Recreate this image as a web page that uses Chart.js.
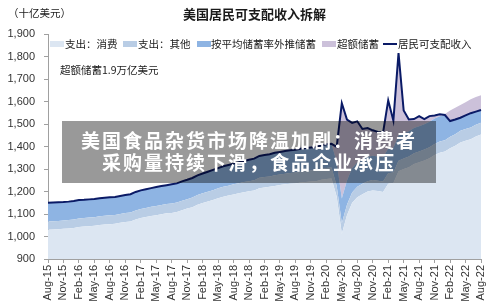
<!DOCTYPE html>
<html>
<head>
<meta charset="utf-8">
<script src="https://cdn.jsdelivr.net/npm/chart.js@4.4.0/dist/chart.umd.min.js"></script>
<style>
  html, body { margin: 0; padding: 0; background: #fff; }
  #wrap { position: relative; width: 500px; height: 306px; overflow: hidden; font-family: "Noto Sans CJK SC", sans-serif; }
  #chart { position: absolute; left: 0; top: 0; }
  .t { position: absolute; white-space: nowrap; color: #1a1a1a; line-height: 1; }
  .sw { position: absolute; width: 14px; height: 6px; }
  .ln { position: absolute; width: 14px; height: 2px; background: #0a1a66; }
  #banner { position: absolute; left: 62px; top: 121px; width: 374px; height: 62px; background: rgba(0,0,0,0.4);
            color: #fff; font-weight: bold; font-size: 19px; line-height: 22px; text-align: center; letter-spacing: 2px;
            padding-top: 8px; box-sizing: border-box; }
</style>
</head>
<body>
<div id="wrap">
  <canvas id="chart" width="500" height="306"></canvas>
  <div class="t" style="left:8px;top:8px;font-size:10.5px;">（十亿美元）</div>
  <div class="t" style="left:183px;top:7px;font-size:13px;font-weight:bold;">美国居民可支配收入拆解</div>

  <div class="sw" style="left:50px;top:41px;background:#dce6f2;"></div>
  <div class="t" style="left:65px;top:39px;font-size:10.5px;">支出：消费</div>
  <div class="sw" style="left:123px;top:41px;background:#b9cde5;"></div>
  <div class="t" style="left:138px;top:39px;font-size:10.5px;">支出：其他</div>
  <div class="sw" style="left:197px;top:41px;background:#8eb4e3;"></div>
  <div class="t" style="left:211px;top:39px;font-size:10.5px;">按平均储蓄率外推储蓄</div>
  <div class="sw" style="left:322px;top:41px;background:#ccc1da;"></div>
  <div class="t" style="left:337px;top:39px;font-size:10.5px;">超额储蓄</div>
  <div class="ln" style="left:383px;top:43px;"></div>
  <div class="t" style="left:398px;top:39px;font-size:10.5px;">居民可支配收入</div>

  <div class="t" style="left:60px;top:65px;font-size:10.5px;">超额储蓄1.9万亿美元</div>

  <div id="banner">美国食品杂货市场降温加剧：消费者<br>采购量持续下滑，食品企业承压</div>
</div>
<script>
// months on the x axis (ticks shown every 3rd)
const months = [
  'Aug-15','Sep-15','Oct-15','Nov-15','Dec-15',
  'Jan-16','Feb-16','Mar-16','Apr-16','May-16','Jun-16','Jul-16','Aug-16','Sep-16','Oct-16','Nov-16','Dec-16',
  'Jan-17','Feb-17','Mar-17','Apr-17','May-17','Jun-17','Jul-17','Aug-17','Sep-17','Oct-17','Nov-17','Dec-17',
  'Jan-18','Feb-18','Mar-18','Apr-18','May-18','Jun-18','Jul-18','Aug-18','Sep-18','Oct-18','Nov-18','Dec-18',
  'Jan-19','Feb-19','Mar-19','Apr-19','May-19','Jun-19','Jul-19','Aug-19','Sep-19','Oct-19','Nov-19','Dec-19',
  'Jan-20','Feb-20','Mar-20','Apr-20','May-20','Jun-20','Jul-20','Aug-20','Sep-20','Oct-20','Nov-20','Dec-20',
  'Jan-21','Feb-21','Mar-21','Apr-21','May-21','Jun-21','Jul-21','Aug-21','Sep-21','Oct-21','Nov-21','Dec-21',
  'Jan-22','Feb-22','Mar-22','Apr-22','May-22','Jun-22','Jul-22','Aug-22'
];

// 居民可支配收入 (line)
const income = [
  1150,1151,1152,1153,1155,1158,1162,1163,1165,1167,
  1170,1172,1174,1176,1180,1184,1188,1198,1205,1210,
  1215,1220,1224,1228,1232,1236,1245,1252,1260,1272,
  1280,1288,1296,1304,1312,1318,1324,1330,1336,1341,
  1346,1358,1362,1366,1372,1376,1380,1383,1386,1390,
  1393,1396,1398,1405,1410,1412,1398,1592,1520,1505,
  1512,1478,1482,1472,1465,1462,1605,1515,1815,1560,
  1520,1522,1535,1522,1535,1538,1543,1540,1513,1520,
  1528,1538,1548,1555,1562
];

// 支出：消费
const consumption = [
  1030,1031,1032,1034,1036,1038,1042,1044,1046,1048,
  1051,1053,1055,1057,1061,1064,1067,1076,1082,1087,
  1091,1095,1099,1103,1105,1109,1117,1124,1130,1141,
  1149,1156,1162,1170,1177,1182,1187,1192,1197,1201,
  1204,1215,1218,1221,1225,1229,1232,1235,1236,1240,
  1242,1245,1246,1252,1256,1258,1178,1012,1095,1150,
  1175,1188,1200,1205,1202,1198,1235,1238,1290,1300,
  1308,1322,1330,1338,1348,1362,1372,1378,1392,1403,
  1418,1426,1432,1444,1453
];

// 支出：其他
const otherOutlays = [
  37,37,37,37,37,38,38,38,38,38,
  39,39,39,39,39,40,40,40,40,40,
  41,41,41,41,42,42,42,42,43,43,
  43,43,44,44,44,44,45,45,45,45,
  46,46,46,46,47,47,47,47,48,48,
  48,48,48,49,49,49,48,47,46,46,
  46,46,46,46,46,46,46,47,47,47,
  48,48,48,49,49,49,50,50,51,51,
  52,52,52,53,53
];

// 按平均储蓄率外推储蓄
const trendSaving = [
  83,83,83,82,82,82,82,81,81,81,
  80,80,80,80,80,80,81,82,83,83,
  83,84,84,84,85,85,86,86,87,88,
  88,89,90,90,91,92,92,93,94,95,
  96,97,98,99,100,100,101,101,102,102,
  103,103,104,104,105,105,105,110,108,108,
  108,108,108,108,108,108,110,110,112,112,
  112,112,112,112,113,113,113,112,70,66,
  58,60,64,58,56
];

// 超额储蓄
const excessSaving = [
  0,0,0,0,0,0,0,0,0,0,
  0,0,0,0,0,0,0,0,0,0,
  0,0,0,0,0,0,0,0,0,0,
  0,0,0,0,0,0,0,0,0,0,
  0,0,0,0,0,0,0,0,0,0,
  0,0,0,0,0,0,67,423,271,201,
  183,136,128,113,109,110,214,120,366,101,
  52,40,45,23,25,14,8,5,47,52,
  57,59,62,65,66
];

const yTicks = [900, 1000, 1100, 1200, 1300, 1400, 1500, 1600, 1700, 1800, 1900];

const axisFont = { family: 'Liberation Sans', size: 11 };

function area(label, data, color, fill) {
  return {
    label: label, data: data, stack: 'parts', fill: fill,
    backgroundColor: color, borderWidth: 0, pointRadius: 0, tension: 0
  };
}

new Chart(document.getElementById('chart'), {
  type: 'line',
  data: {
    labels: months,
    datasets: [
      {
        label: '居民可支配收入', data: income, stack: 'income', fill: false,
        borderColor: '#0a1a66', borderWidth: 2, pointRadius: 0, tension: 0
      },
      area('支出：消费', consumption, '#dce6f2', 'start'),
      area('支出：其他', otherOutlays, '#b9cde5', '-1'),
      area('按平均储蓄率外推储蓄', trendSaving, '#8eb4e3', '-1'),
      area('超额储蓄', excessSaving, '#ccc1da', '-1')
    ]
  },
  options: {
    responsive: false,
    animation: false,
    layout: { padding: { top: 34, right: 19, left: 0, bottom: 0 } },
    plugins: { legend: { display: false }, tooltip: { enabled: false } },
    scales: {
      x: {
        offset: false,
        grid: {
          drawOnChartArea: false, tickLength: 4,
          color: ctx => ctx.index % 3 === 0 ? '#a0a0a0' : 'rgba(0,0,0,0)'
        },
        border: { color: '#a0a0a0' },
        ticks: {
          autoSkip: false, maxRotation: 90, minRotation: 90, padding: 2,
          font: axisFont, color: '#333',
          callback: (v, i) => i % 3 === 0 ? months[i] : ''
        },
        afterFit: s => { s.height = 47; }
      },
      y: {
        stacked: true,
        min: yTicks[0], max: yTicks[yTicks.length - 1],
        afterBuildTicks: s => { s.ticks = yTicks.map(v => ({ value: v })); },
        grid: { drawOnChartArea: false, tickLength: 4, color: '#a0a0a0' },
        border: { color: '#a0a0a0' },
        ticks: {
          padding: 9, font: axisFont, color: '#333',
          callback: v => v.toLocaleString('en-US')
        },
        afterFit: s => { s.width = 48; }
      }
    }
  }
});
</script>
</body>
</html>
